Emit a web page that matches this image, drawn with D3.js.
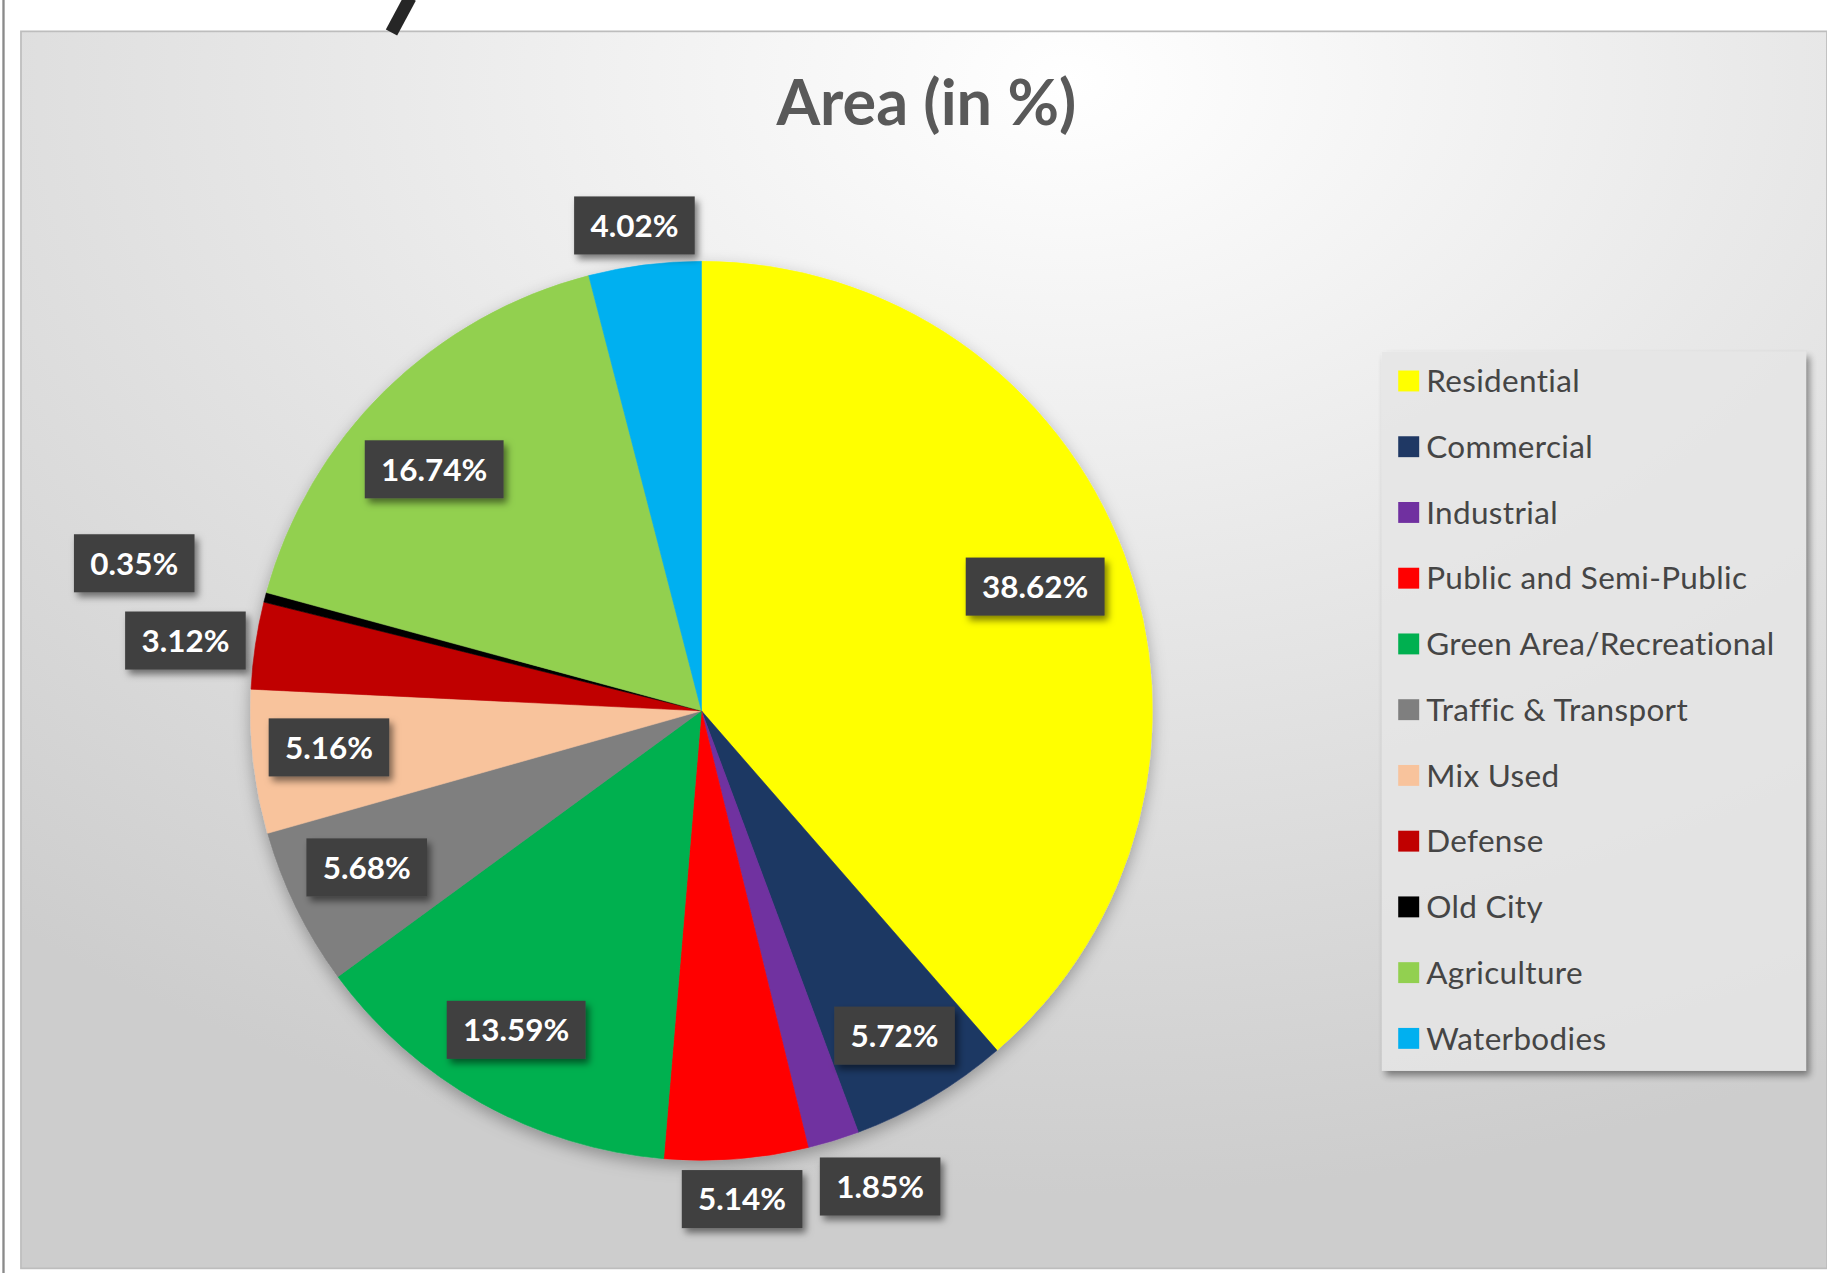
<!DOCTYPE html>
<html>
<head>
<meta charset="utf-8">
<script src="https://cdn.jsdelivr.net/npm/d3@7"></script>
<style>
  html, body { margin: 0; padding: 0; background: #fff; }
  svg { display: block; }
</style>
</head>
<body>
<div id="chart"></div>
<script>
// DATA
const categories = ["Residential", "Commercial", "Industrial", "Public and Semi-Public",
  "Green Area/Recreational", "Traffic & Transport", "Mix Used", "Defense", "Old City",
  "Agriculture", "Waterbodies"];
const areaShare = [38.62, 5.72, 1.85, 5.14, 13.59, 5.68, 5.16, 3.12, 0.35, 16.74, 4.02];
const sliceColors = ["#ffff00", "#1f3864", "#7030a0", "#ff0000", "#00b050", "#7f7f7f",
  "#f8c39c", "#c00000", "#000000", "#92d050", "#00b0f0"];
const chartTitle = "Area (in %)";

// where excel put each data label: [radius factor, angle nudge in degrees]
const labelSpots = [[0.79, 0], [0.84, 0], [1.13, -3.5], [1.09, -0.3], [0.82, 0.8], [0.82, 0.9],
  [0.83, 0.9], [1.155, -0.6], [1.30, 0], [0.80, -3.2], [1.09, -0.6]];

// SETUP (drawn in a 1568x1096 space, stretched to the window)
const W = 1568, H = 1096;
const svg = d3.select("#chart").append("svg")
  .attr("width", 1827).attr("height", 1273)
  .attr("viewBox", `0 0 ${W} ${H}`)
  .attr("preserveAspectRatio", "none");

const defs = svg.append("defs");
const bg = defs.append("radialGradient").attr("id", "bgGrad")
  .attr("cx", "58%").attr("cy", "4%").attr("r", "90%");
bg.append("stop").attr("offset", "0%").attr("stop-color", "#ffffff");
bg.append("stop").attr("offset", "45%").attr("stop-color", "#e8e8e8");
bg.append("stop").attr("offset", "100%").attr("stop-color", "#cdcdcd");

const boxShadow = defs.append("filter").attr("id", "boxShadow")
  .attr("x", "-20%").attr("y", "-20%").attr("width", "150%").attr("height", "160%");
boxShadow.append("feDropShadow").attr("dx", 3).attr("dy", 4).attr("stdDeviation", 3)
  .attr("flood-color", "#000").attr("flood-opacity", 0.5);

const pieShadow = defs.append("filter").attr("id", "pieShadow")
  .attr("x", "-10%").attr("y", "-10%").attr("width", "120%").attr("height", "125%");
pieShadow.append("feDropShadow").attr("dx", 0).attr("dy", 5).attr("stdDeviation", 7)
  .attr("flood-color", "#000").attr("flood-opacity", 0.3);

// page bits around the chart
svg.append("line").attr("x1", 3).attr("x2", 3).attr("y1", 0).attr("y2", H)
  .attr("stroke", "#8a8a8a").attr("stroke-width", 2);
svg.append("rect").attr("x", 18).attr("y", 27).attr("width", W - 18).attr("height", H - 31)
  .attr("fill", "url(#bgGrad)").attr("stroke", "#bdbdbd").attr("stroke-width", 1.5);
svg.append("line").attr("x1", 336).attr("y1", 28).attr("x2", 352).attr("y2", -2)
  .attr("stroke", "#262626").attr("stroke-width", 11);

// TITLE
svg.append("text").attr("x", 795).attr("y", 108)
  .attr("text-anchor", "middle")
  .attr("font-family", "Lato, 'Open Sans', sans-serif").attr("font-weight", "bold")
  .attr("font-size", 54).attr("fill", "#595959")
  .text(chartTitle);

// PIE
const cx = 602, cy = 612, R = 387;
const pie = d3.pie().sort(null).value(d => d)(areaShare);
const arc = d3.arc().innerRadius(0).outerRadius(R);

const g = svg.append("g").attr("transform", `translate(${cx},${cy})`);
g.append("g").attr("filter", "url(#pieShadow)")
  .selectAll("path").data(pie).enter().append("path")
  .attr("d", arc)
  .attr("fill", (d, i) => sliceColors[i])
  .attr("stroke", (d, i) => sliceColors[i]).attr("stroke-width", 0.5);

// DATA LABELS
const labels = g.selectAll(".lbl").data(pie).enter().append("g").attr("class", "lbl")
  .attr("transform", (d, i) => {
    const [f, nudge] = labelSpots[i];
    const mid = (d.startAngle + d.endAngle) / 2 + nudge * Math.PI / 180;
    const r = R * f;
    const c = d3.arc().innerRadius(r).outerRadius(r).centroid({ startAngle: mid, endAngle: mid });
    return `translate(${c[0]},${c[1]})`;
  });

labels.each(function(d, i) {
  const lg = d3.select(this);
  const rect = lg.append("rect").attr("fill", "#404040").attr("filter", "url(#boxShadow)");
  const t = lg.append("text")
    .attr("text-anchor", "middle").attr("dy", "0.36em")
    .attr("font-family", "Lato, 'Open Sans', sans-serif").attr("font-weight", "bold")
    .attr("font-size", 27).attr("fill", "#ffffff")
    .text(areaShare[i].toFixed(2) + "%");
  const bw = t.node().getBBox().width + 28, bh = 50;
  rect.attr("x", -bw / 2).attr("y", -bh / 2).attr("width", bw).attr("height", bh);
});

// LEGEND
const legend = svg.append("g").attr("transform", "translate(1186,303)");
legend.append("rect").attr("width", 364).attr("height", 619)
  .attr("fill", "#e6e6e6").attr("filter", "url(#boxShadow)").attr("opacity", 0.85);
const legendY = d3.scalePoint().domain(categories).range([25, 591]);
const items = legend.selectAll(".item").data(categories).enter().append("g")
  .attr("transform", d => `translate(0,${legendY(d)})`);
items.append("rect").attr("x", 14).attr("y", -9).attr("width", 18).attr("height", 18)
  .attr("fill", (d, i) => sliceColors[i]);
items.append("text").attr("x", 38).attr("dy", "0.36em")
  .attr("font-family", "Lato, 'Open Sans', sans-serif").attr("font-size", 27)
  .attr("letter-spacing", 0.3)
  .attr("fill", "#454545").text(d => d);
</script>
</body>
</html>
